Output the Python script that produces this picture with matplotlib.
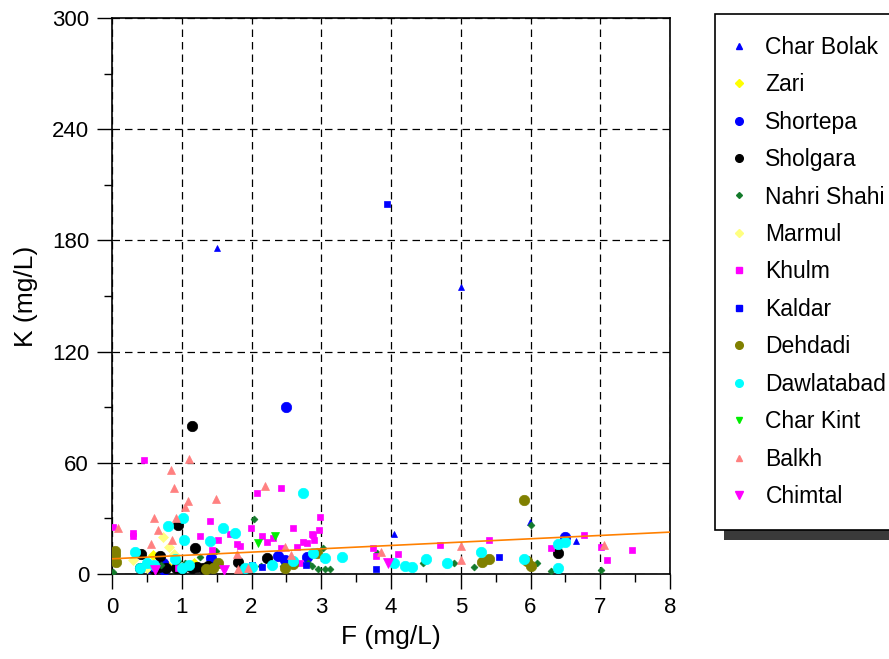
import numpy as np
import matplotlib
matplotlib.use("Agg")
import matplotlib.pyplot as plt
from matplotlib.lines import Line2D
from matplotlib.patches import Rectangle

plt.rcParams["font.family"] = ["Liberation Sans", "DejaVu Sans"]

# -------------------------
# Data: fluoride (F) vs potassium (K), mg/L
# -------------------------

char_bolak_f = [1.50, 5.00, 4.04, 5.99, 6.65]
char_bolak_k = [176, 155, 21.6, 28, 17.8]

zari_f = [0.50, 0.59, 0.80, 1.17]
zari_k = [4.3, 10.3, 4.3, 5.9]

shortepa_f = [2.49, 6.50, 0.63, 0.73, 1.42, 2.38, 2.48, 2.80, 0.55, 0.75]
shortepa_k = [90, 20, 3.9, 6.0, 8.8, 9.7, 7.5, 9.0, 3.0, 2.0]

sholgara_f = [1.15, 0.95, 0.42, 0.69, 1.19, 1.80, 2.22, 6.40,
              0.40, 0.60, 0.68, 0.78, 0.92, 1.00, 1.15, 1.22, 1.30, 1.37]
sholgara_k = [80, 26.4, 10.8, 9.8, 14, 6.5, 8.6, 11.3,
              3.2, 2.5, 4.0, 3.0, 3.5, 2.6, 3.0, 4.0, 3.2, 4.5]

nahri_shahi_f = [0.02, 2.03, 1.49, 1.26, 1.05, 1.88, 2.14, 2.31, 2.45, 2.81,
                 2.87, 2.95, 3.05, 3.13, 3.02, 3.80, 4.46, 4.80, 4.90, 5.19,
                 6.00, 6.00, 6.09, 6.30, 7.01, 0.70, 0.95]
nahri_shahi_k = [1.0, 29.5, 12.4, 9.2, 5.9, 3.8, 4.3, 4.3, 4.3, 5.9,
                 4.3, 2.7, 2.7, 2.7, 14, 11.3, 5.9, 5.4, 5.9, 3.8,
                 26.4, 4.3, 5.9, 1.6, 2.2, 5.0, 7.0]

marmul_f = [0.73, 0.82, 0.89, 0.30, 0.50]
marmul_k = [20, 14.3, 11, 7.5, 3.0]

khulm_f = [0.46, 0.02, 0.30, 0.30, 1.26, 1.41, 1.52, 1.69, 1.79, 1.83,
           1.99, 2.08, 2.15, 2.22, 2.31, 2.43, 2.43, 2.60, 2.65, 2.74,
           2.88, 2.98, 2.97, 2.70, 2.80, 1.43, 2.87, 2.90, 3.74, 3.79,
           4.10, 5.40, 4.70, 6.30, 6.76, 7.01, 7.10, 7.45, 0.95]
khulm_k = [61.5, 25.4, 22, 20.5, 20.5, 28.6, 18.4, 21.6, 16.2, 15,
           24.8, 43.7, 20.5, 17.3, 19.4, 46.4, 14, 24.8, 14.6, 17.3,
           21, 30.8, 23.5, 5.9, 16.7, 13, 21.6, 18.4, 14, 9.7,
           10.8, 18.4, 15.7, 14, 21, 14.6, 7.6, 13, 3.0]

kaldar_f = [3.94, 3.79, 5.55, 2.00, 2.15, 2.78, 0.60]
kaldar_k = [199.7, 2.7, 9.2, 4.9, 3.8, 4.9, 3.0]

dehdadi_f = [5.90, 5.30, 5.40, 5.95, 6.00, 0.04, 0.04, 0.06, 1.35, 1.52,
             2.60, 2.94, 2.48, 1.45]
dehdadi_k = [40, 6.5, 8.1, 7.0, 4.3, 12.5, 10, 6.5, 2.7, 5.9,
             5.4, 11.3, 3.2, 3.0]

dawlatabad_f = [2.74, 1.02, 0.80, 1.59, 1.77, 1.03, 1.40, 0.33, 3.05, 3.30,
                2.88, 4.04, 4.20, 4.30, 4.50, 4.80, 5.29, 5.90, 6.40, 6.40,
                6.50, 0.50, 0.40, 0.60, 1.00, 1.10, 0.90, 2.00, 1.90, 2.30, 2.60]
dawlatabad_k = [43.7, 30, 26, 25, 22, 18.4, 18, 12, 8.7, 9.3,
                11.3, 6.0, 4.3, 3.8, 8.1, 5.9, 11.9, 8.1, 16.2, 3.2,
                17, 6.0, 3.5, 5.0, 3.0, 5.0, 8.0, 4.0, 3.0, 5.0, 7.0]

char_kint_f = [2.10, 2.33]
char_kint_k = [16.7, 20.5]

balkh_f = [1.10, 0.85, 0.89, 1.09, 1.05, 1.49, 2.20, 0.60, 0.66, 0.56,
           0.86, 0.92, 0.09, 1.79, 1.80, 2.48, 2.57, 3.86, 5.00, 5.00,
           7.05, 1.95]
balkh_k = [62, 56, 46.4, 39.4, 36, 40.5, 47.5, 30.2, 23.7, 16.2,
           18.4, 30.2, 24.8, 10.8, 2.7, 14.6, 10.3, 11.9, 15, 7.6,
           15.7, 3.0]

chimtal_f = [3.96, 0.62, 1.60]
chimtal_k = [5.9, 2.0, 2.0]

# linear trend K = a + b*F
trend_a = 8.2
trend_b = 1.8

# -------------------------
# Series styles: (name, F, K, marker, color, size, legend size)
# -------------------------

series = [
    ("Char Bolak", char_bolak_f, char_bolak_k, "^", "#0000ff", 5.0, 4.0),
    ("Zari", zari_f, zari_k, "D", "#ffff00", 5.5, 4.5),
    ("Shortepa", shortepa_f, shortepa_k, "o", "#0000ff", 7.5, 5.5),
    ("Sholgara", sholgara_f, sholgara_k, "o", "#000000", 7.5, 5.5),
    ("Nahri Shahi", nahri_shahi_f, nahri_shahi_k, "D", "#137a2b", 3.5, 3.0),
    ("Marmul", marmul_f, marmul_k, "D", "#ffff80", 5.5, 4.5),
    ("Khulm", khulm_f, khulm_k, "s", "#ff00ff", 5.0, 4.0),
    ("Kaldar", kaldar_f, kaldar_k, "s", "#0000ff", 4.5, 4.0),
    ("Dehdadi", dehdadi_f, dehdadi_k, "o", "#808000", 7.5, 5.5),
    ("Dawlatabad", dawlatabad_f, dawlatabad_k, "o", "#00ffff", 7.5, 5.5),
    ("Char Kint", char_kint_f, char_kint_k, "v", "#00ee00", 5.5, 4.5),
    ("Balkh", balkh_f, balkh_k, "^", "#ff8080", 5.5, 4.5),
    ("Chimtal", chimtal_f, chimtal_k, "v", "#ff00ff", 7.0, 6.0),
]

# -------------------------
# Figure
# -------------------------

fig = plt.figure(figsize=(8.89, 6.59), dpi=100)
ax = fig.add_axes([112 / 889, 85 / 659, 558 / 889, 556 / 659])

for name, fx, ky, mk, col, ms, _ in series:
    ax.plot(fx, ky, linestyle="none", marker=mk, markersize=ms,
            markerfacecolor=col, markeredgecolor=col, markeredgewidth=0.5,
            zorder=3)

xt = np.array([0, 8])
ax.plot(xt, trend_a + trend_b * xt, color="#ff8000", linewidth=1.2, zorder=4)

ax.set_xlim(0, 8)
ax.set_ylim(0, 300)
ax.set_xticks(np.arange(0, 9, 1))
ax.set_xticks(np.arange(0.5, 8, 1), minor=True)
ax.set_yticks(np.arange(0, 301, 60))
ax.set_yticks(np.arange(30, 300, 60), minor=True)

ax.tick_params(which="major", direction="out", length=10.5, width=1,
               labelsize=16, pad=6)
ax.tick_params(which="minor", direction="out", length=5.5, width=1)

ax.grid(which="major", color="black", linestyle=(0, (6, 4)), linewidth=0.9)
ax.set_axisbelow(True)

for sp in ax.spines.values():
    sp.set_linewidth(1.2)

ax.set_xlabel("F (mg/L)", fontsize=19, labelpad=5)
ax.set_ylabel("K (mg/L)", fontsize=19, labelpad=10)

handles = [
    Line2D([], [], linestyle="none", marker=mk, markersize=lms,
           markerfacecolor=col, markeredgecolor=col)
    for name, _, _, mk, col, _, lms in series
]
labels = [s[0] for s in series]

leg = fig.legend(
    handles, labels,
    loc="upper left",
    bbox_to_anchor=(715 / 889, 1 - 14 / 659),
    borderaxespad=0,
    fontsize=16.5,
    frameon=True,
    fancybox=False,
    edgecolor="black",
    framealpha=1,
    borderpad=0.95,
    labelspacing=0.63,
    handlelength=0.2,
    handletextpad=1.05,
)
leg.get_frame().set_linewidth(1.2)

# drop shadow behind the legend box
fig.canvas.draw()
bb = leg.get_window_extent().transformed(fig.transFigure.inverted())
dx, dy = 9 / 889, 10 / 659
shadow = Rectangle((bb.x0 + dx, bb.y0 - dy), bb.width, bb.height,
                   transform=fig.transFigure, facecolor="#3a3a3a",
                   edgecolor="none", zorder=leg.get_zorder() - 1)
fig.patches.append(shadow)

fig.savefig("out.png", dpi=100)
